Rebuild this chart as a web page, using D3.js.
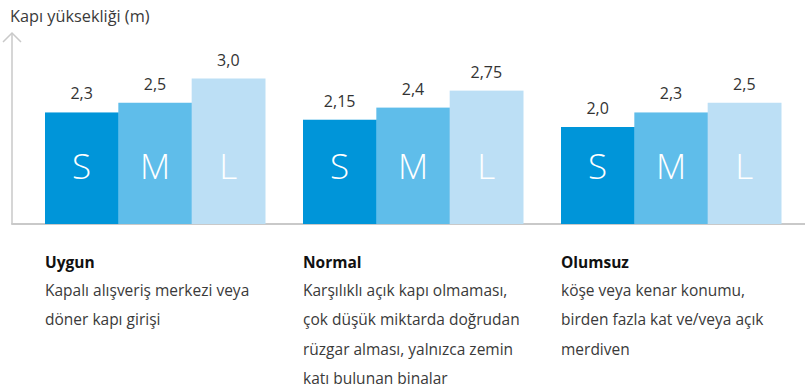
<!DOCTYPE html>
<html>
<head>
<meta charset="utf-8">
<script src="https://cdn.jsdelivr.net/npm/d3@7"></script>
<style>
  html, body { margin: 0; padding: 0; background: #fff; }
  svg { display: block; font-family: "Open Sans", "Noto Sans", sans-serif; }
</style>
</head>
<body>
<svg id="chart" width="805" height="389"></svg>
<script>
// Door heights (m) per wind-exposure category, for sizes S / M / L
const categories = ["Uygun", "Normal", "Olumsuz"];
const sizes = ["S", "M", "L"];
const heightS = [2.3, 2.15, 2.0];
const heightM = [2.5, 2.4, 2.3];
const heightL = [3.0, 2.75, 2.5];
const valueLabels = [
  ["2,3", "2,5", "3,0"],
  ["2,15", "2,4", "2,75"],
  ["2,0", "2,3", "2,5"]
];
const descriptions = [
  ["Kapalı alışveriş merkezi veya", "döner kapı girişi"],
  ["Karşılıklı açık kapı olmaması,", "çok düşük miktarda doğrudan", "rüzgar alması, yalnızca zemin", "katı bulunan binalar"],
  ["köşe veya kenar konumu,", "birden fazla kat ve/veya açık", "merdiven"]
];
const axisTitle = "Kapı yüksekliği (m)";
const colors = ["#0095d9", "#5fbdea", "#bcdff5"];

const rows = categories.map((c, i) => ({
  category: c,
  values: [heightS[i], heightM[i], heightL[i]],
  labels: valueLabels[i],
  desc: descriptions[i]
}));

const svg = d3.select("#chart");
const baseY = 224;
const axisX = 12;

const x0 = d3.scaleBand().domain(categories).range([45, 781]).paddingInner(38 / 258).paddingOuter(0);
const x1 = d3.scaleBand().domain(sizes).range([0, 220]).padding(0);
const y = d3.scaleLinear().domain([0, 3]).range([baseY, baseY - 145.5]);

// Axes: vertical with an open arrowhead, horizontal baseline
const axisColor = "#c9c9c9";
svg.append("line").attr("x1", axisX).attr("x2", axisX).attr("y1", baseY).attr("y2", 33)
  .attr("stroke", axisColor).attr("stroke-width", 1.5);
svg.append("path").attr("d", `M${axisX - 9},${42} L${axisX},${33} L${axisX + 9},${42}`)
  .attr("fill", "none").attr("stroke", axisColor).attr("stroke-width", 1.5);
svg.append("line").attr("x1", axisX - 0.75).attr("x2", 805).attr("y1", baseY).attr("y2", baseY)
  .attr("stroke", axisColor).attr("stroke-width", 2);

svg.append("text").attr("x", 10).attr("y", 22)
  .attr("font-size", 16.3).attr("fill", "#3a3a3a").text(axisTitle);

const groups = svg.selectAll("g.group").data(rows).join("g")
  .attr("class", "group")
  .attr("transform", d => `translate(${x0(d.category)},0)`);

const bars = groups.selectAll("g.bar")
  .data(d => d.values.map((v, j) => ({ v, size: sizes[j], label: d.labels[j], j })))
  .join("g").attr("class", "bar");

bars.append("rect")
  .attr("x", d => x1(d.size))
  .attr("width", x1.bandwidth() + 0.5)
  .attr("y", d => y(d.v))
  .attr("height", d => baseY - y(d.v))
  .attr("fill", d => colors[d.j]);

bars.append("text")
  .attr("x", d => x1(d.size) + x1.bandwidth() / 2)
  .attr("y", d => y(d.v) - 13)
  .attr("text-anchor", "middle")
  .attr("font-size", 16).attr("fill", "#333")
  .text(d => d.label);

bars.append("text")
  .attr("x", d => x1(d.size) + x1.bandwidth() / 2)
  .attr("y", 179)
  .attr("text-anchor", "middle")
  .attr("font-size", 35).attr("font-weight", 300).attr("fill", "#fff")
  .text(d => d.size);

// Category captions below the chart
groups.append("text")
  .attr("x", 0).attr("y", 268)
  .attr("font-size", 15.5).attr("font-weight", 700).attr("fill", "#111")
  .text(d => d.category);

groups.each(function (d) {
  d3.select(this).selectAll("text.desc").data(d.desc).join("text")
    .attr("class", "desc")
    .attr("x", 0).attr("y", (t, k) => 296 + k * 29.3)
    .attr("font-size", 15.5).attr("fill", "#3a3a3a")
    .text(t => t);
});
</script>
</body>
</html>
